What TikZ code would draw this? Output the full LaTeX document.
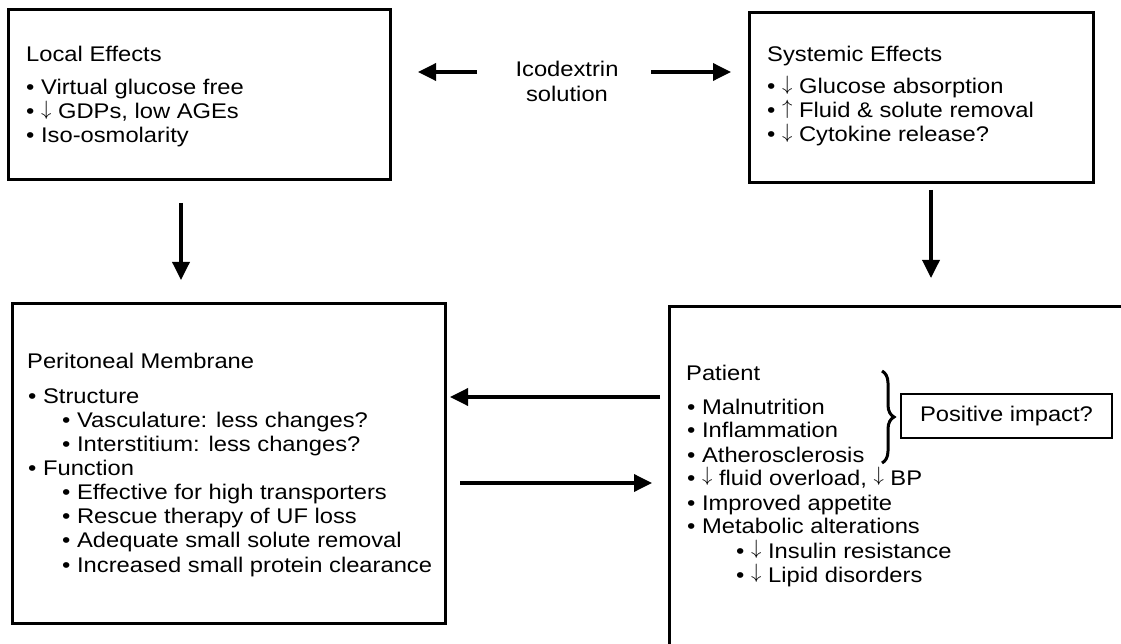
\documentclass[tikz,border=0pt]{standalone}
\usepackage{fontspec}
\setmainfont{Liberation Sans}[FakeStretch=1.12]
\usetikzlibrary{arrows.meta,decorations.pathreplacing}
\newcommand{\fs}{\fontsize{21.2pt}{24pt}\selectfont}
\newcommand{\dnar}{\smash{\raisebox{0.17em}{$\downarrow$}}}
\newcommand{\upar}{\smash{\raisebox{0.17em}{$\uparrow$}}}
\tikzset{
  box/.style={draw, line width=3pt, inner sep=0pt},
  thinbox/.style={draw, line width=1.5pt, inner sep=0pt},
  txt/.style={anchor=base west, inner sep=0pt, font=\fs},
  ctxt/.style={anchor=base, inner sep=0pt, font=\fs},
  arr/.style={line width=3.5pt, -{Triangle[length=18pt,width=17pt]}},
}
\begin{document}
\begin{tikzpicture}[x=1pt,y=-1pt]
\useasboundingbox (0,0) rectangle (1121,644);
\begin{scope}
\clip (0,0) rectangle (1121,644);
% boxes
\node[box, minimum width=382pt, minimum height=170pt] (local) at (199,95) {};
\node[box, minimum width=344pt, minimum height=170pt] (sys) at (921,98) {};
\node[box, minimum width=433pt, minimum height=320pt] (peri) at (228.5,463) {};
\node[box, minimum width=456pt, minimum height=339pt] (pat) at (897,475.5) {};
\end{scope}
\node[thinbox, minimum width=211pt, minimum height=44pt, font=\fs] (pos) at (1006.5,416) {Positive impact?};

% Local effects
\node[txt] (l0) at (26,62) {Local Effects};
\node[txt] (l1) at (26,95) {• Virtual glucose free};
\node[txt] (l2) at (26,119) {• \dnar\ GDPs, low AGEs};
\node[txt] (l3) at (26,143) {• Iso-osmolarity};

% Icodextrin
\node[ctxt] (i1) at (567,77) {Icodextrin};
\node[ctxt] (i2) at (567,102) {solution};

% Systemic effects
\node[txt] (s0) at (767,62) {Systemic Effects};
\node[txt] (s1) at (767,94) {• \dnar\ Glucose absorption};
\node[txt] (s2) at (767,118) {• \upar\ Fluid \& solute removal};
\node[txt] (s3) at (767,142) {• \dnar\ Cytokine release?};

% Peritoneal membrane
\node[txt] (p0) at (27,368) {Peritoneal Membrane};
\node[txt] (p1) at (28,403) {• Structure};
\node[txt] (p2) at (62,427) {• Vasculature: less changes?};
\node[txt] (p3) at (62,451) {• Interstitium: less changes?};
\node[txt] (p4) at (28,475) {• Function};
\node[txt] (p5) at (62,499) {• Effective for high transporters};
\node[txt] (p6) at (62,523) {• Rescue therapy of UF loss};
\node[txt] (p7) at (62,547) {• Adequate small solute removal};
\node[txt] (p8) at (62,572) {• Increased small protein clearance};

% Patient
\node[txt] (q0) at (686,380) {Patient};
\node[txt] (q1) at (687,414) {• Malnutrition};
\node[txt] (q2) at (687,437) {• Inflammation};
\node[txt] (q3) at (687,462) {• Atherosclerosis};
\node[txt] (q4) at (687,485) {• \dnar\ fluid overload, \dnar\ BP};
\node[txt] (q5) at (687,510) {• Improved appetite};
\node[txt] (q6) at (687,533) {• Metabolic alterations};
\node[txt] (q7) at (736,558) {• \dnar\ Insulin resistance};
\node[txt] (q8) at (736,582) {• \dnar\ Lipid disorders};

% brace
\coordinate (bt) at (882,371);
\coordinate (bb) at (882,463);
\draw[line width=3pt, decorate, decoration={brace, amplitude=12pt}] (bt) -- (bb);

% arrow end points
\coordinate (a1s) at (477,72);  \coordinate (a1e) at (418,72);
\coordinate (a2s) at (651,72);  \coordinate (a2e) at (731,72);
\coordinate (a3s) at (181,203); \coordinate (a3e) at (181,280);
\coordinate (a4s) at (931,190); \coordinate (a4e) at (931,278);
\coordinate (a5s) at (660,397); \coordinate (a5e) at (450,397);
\coordinate (a6s) at (460,483); \coordinate (a6e) at (652,483);
\draw[arr] (a1s) -- (a1e);
\draw[arr] (a2s) -- (a2e);
\draw[arr] (a3s) -- (a3e);
\draw[arr] (a4s) -- (a4e);
\draw[arr] (a5s) -- (a5e);
\draw[arr] (a6s) -- (a6e);
\end{tikzpicture}
\end{document}
